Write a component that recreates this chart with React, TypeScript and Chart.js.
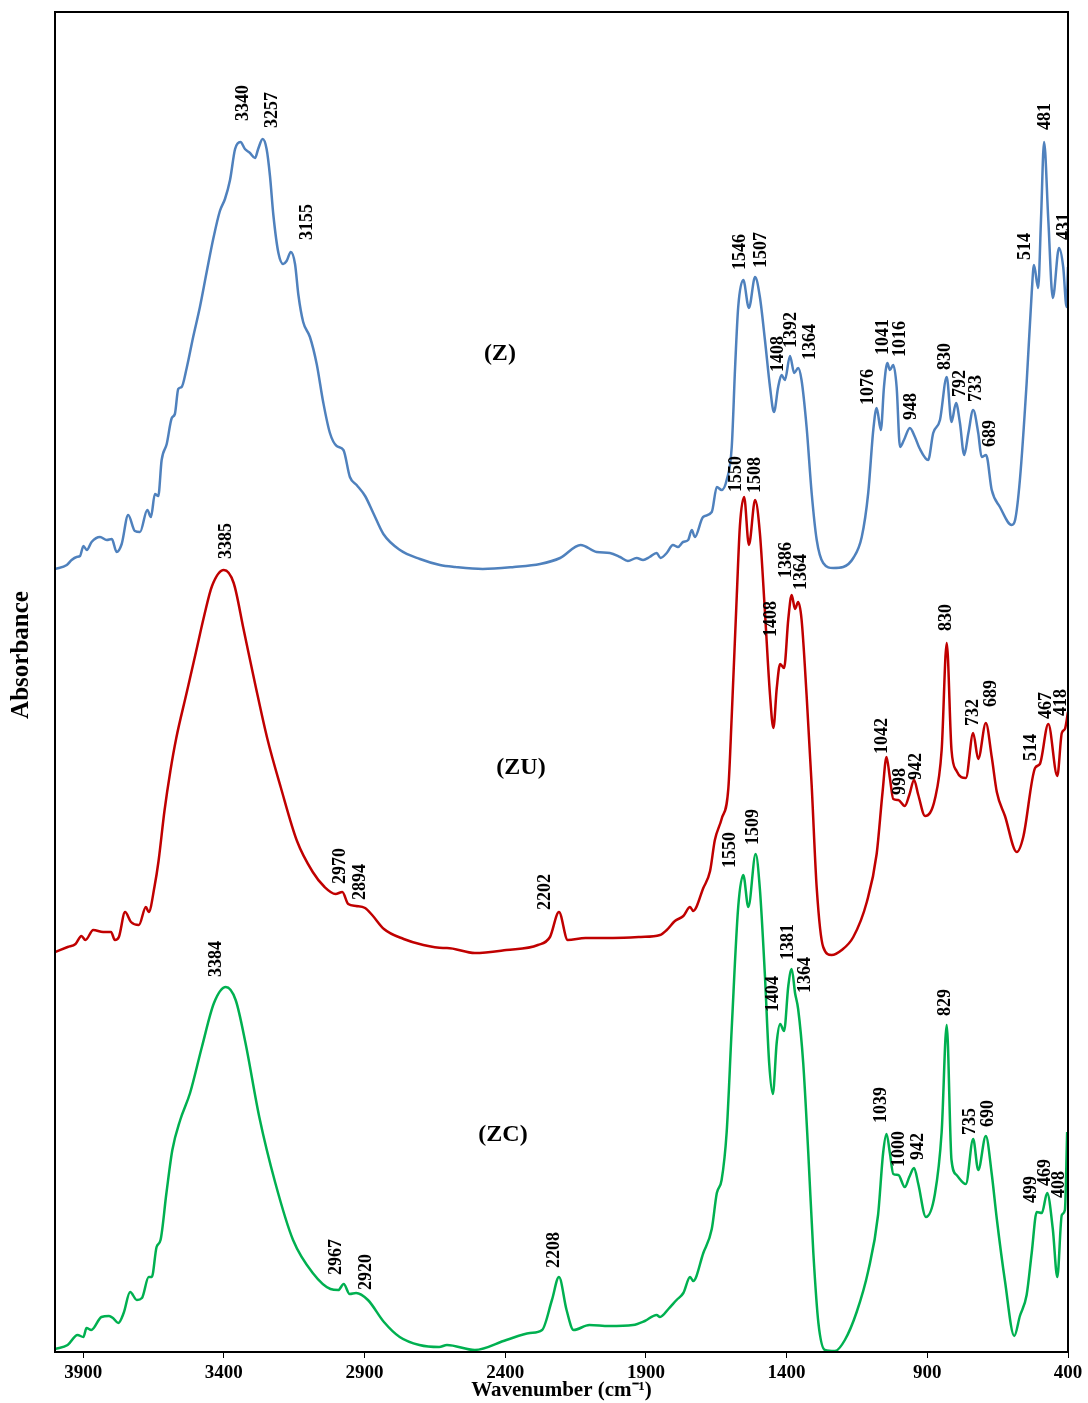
import React, { useEffect, useRef } from "react";
import { Chart, registerables } from "chart.js";

Chart.register(...registerables);

// ---------- axis ----------
const X_TICKS = [3900, 3400, 2900, 2400, 1900, 1400, 900, 400];
const X_MIN = 400;
const X_MAX = 4000;
const Y_MIN = 0;
const Y_MAX = 1.34;

// ---------- series (Z) ----------
const Z_WN = [
  4000, 3958, 3941, 3923, 3911, 3899, 3887, 3870, 3840, 3816,
  3798, 3781, 3763, 3740, 3716, 3698, 3672, 3659, 3645, 3633,
  3621, 3603, 3585, 3574, 3562, 3550, 3532, 3509, 3485, 3461,
  3437, 3414, 3396, 3378, 3360, 3341, 3325, 3307, 3289, 3278,
  3262, 3248, 3236, 3224, 3206, 3189, 3177, 3162, 3147, 3135,
  3118, 3094, 3070, 3047, 3023, 2999, 2975, 2952, 2928, 2898,
  2869, 2833, 2774, 2703, 2632, 2578, 2480, 2369, 2276, 2205,
  2132, 2075, 2028, 1992, 1964, 1933, 1910, 1887, 1862, 1848,
  1826, 1804, 1786, 1768, 1750, 1737, 1726, 1697, 1666, 1648,
  1631, 1613, 1595, 1583, 1572, 1554, 1534, 1512, 1495, 1477,
  1459, 1445, 1430, 1418, 1406, 1388, 1373, 1359, 1347, 1329,
  1311, 1293, 1270, 1234, 1199, 1163, 1133, 1110, 1092, 1080,
  1065, 1054, 1042, 1033, 1021, 1009, 997, 983, 962, 944,
  928, 897, 879, 855, 831, 814, 798, 784, 769, 754,
  737, 719, 707, 691, 671, 642, 600, 588, 571, 547,
  529, 521, 506, 496, 485, 470, 454, 432, 417, 405,
  400,
];
const Z_ABS = [
  0.783, 0.787, 0.792, 0.795, 0.796, 0.806, 0.802, 0.81, 0.815, 0.812,
  0.813, 0.8, 0.808, 0.837, 0.821, 0.82, 0.842, 0.835, 0.858, 0.856,
  0.892, 0.908, 0.934, 0.938, 0.963, 0.965, 0.984, 1.015, 1.045, 1.08,
  1.114, 1.141, 1.153, 1.172, 1.203, 1.21, 1.203, 1.199, 1.194, 1.203,
  1.213, 1.203, 1.176, 1.137, 1.099, 1.088, 1.091, 1.1, 1.088, 1.057,
  1.03, 1.015, 0.988, 0.95, 0.919, 0.906, 0.902, 0.875, 0.867, 0.856,
  0.839, 0.818, 0.802, 0.793, 0.787, 0.785, 0.783, 0.785, 0.788, 0.794,
  0.807, 0.8, 0.799, 0.795, 0.791, 0.794, 0.792, 0.795, 0.799, 0.794,
  0.799, 0.807, 0.805, 0.81, 0.812, 0.822, 0.815, 0.835, 0.84, 0.865,
  0.862, 0.872, 0.905, 0.985, 1.045, 1.072, 1.044, 1.075, 1.055, 1.012,
  0.965, 0.94, 0.965, 0.977, 0.972, 0.996, 0.979, 0.984, 0.972, 0.925,
  0.859, 0.812, 0.789, 0.784, 0.785, 0.794, 0.815, 0.859, 0.922, 0.944,
  0.922, 0.965, 0.989, 0.982, 0.987, 0.965, 0.905, 0.912, 0.924, 0.915,
  0.904, 0.892, 0.919, 0.932, 0.975, 0.93, 0.949, 0.929, 0.897, 0.919,
  0.942, 0.919, 0.895, 0.897, 0.862, 0.845, 0.827, 0.832, 0.872, 0.969,
  1.059, 1.087, 1.064, 1.132, 1.21, 1.132, 1.054, 1.104, 1.085, 1.045,
  1.085,
];

// ---------- series (ZU) ----------
const ZU_WN = [
  4000, 3955, 3927, 3906, 3892, 3864, 3829, 3801, 3787, 3773,
  3751, 3730, 3702, 3677, 3667, 3646, 3632, 3611, 3590, 3569,
  3534, 3499, 3470, 3442, 3400, 3365, 3330, 3288, 3246, 3197,
  3140, 3084, 3042, 3003, 2979, 2958, 2930, 2898, 2873, 2831,
  2761, 2691, 2621, 2607, 2508, 2396, 2284, 2241, 2209, 2178,
  2115, 2017, 1918, 1850, 1826, 1797, 1767, 1743, 1732, 1696,
  1672, 1655, 1631, 1607, 1595, 1577, 1566, 1551, 1534, 1512,
  1495, 1477, 1459, 1447, 1435, 1423, 1409, 1394, 1382, 1370,
  1359, 1347, 1329, 1311, 1293, 1270, 1240, 1204, 1163, 1115,
  1080, 1059, 1045, 1033, 1021, 1003, 980, 964, 947, 932,
  908, 873, 849, 831, 814, 796, 763, 737, 719, 692,
  671, 653, 624, 582, 559, 517, 500, 470, 438, 422,
  411, 400,
];
const ZU_ABS = [
  0.4, 0.405, 0.408, 0.416, 0.412, 0.422, 0.42, 0.42, 0.412, 0.415,
  0.44, 0.43, 0.427, 0.445, 0.44, 0.466, 0.491, 0.541, 0.581, 0.614,
  0.657, 0.7, 0.736, 0.766, 0.782, 0.769, 0.723, 0.667, 0.614, 0.564,
  0.511, 0.48, 0.465, 0.458, 0.46, 0.448, 0.446, 0.444, 0.437, 0.423,
  0.413, 0.407, 0.404, 0.404, 0.399, 0.402, 0.407, 0.415, 0.44, 0.412,
  0.414, 0.414, 0.415, 0.417, 0.422, 0.431, 0.436, 0.445, 0.441, 0.464,
  0.481, 0.512, 0.533, 0.564, 0.636, 0.757, 0.826, 0.855, 0.807, 0.852,
  0.819, 0.74, 0.657, 0.624, 0.664, 0.688, 0.684, 0.733, 0.757, 0.743,
  0.75, 0.733, 0.657, 0.567, 0.464, 0.405, 0.397, 0.402, 0.415, 0.45,
  0.498, 0.56, 0.595, 0.574, 0.553, 0.552, 0.546, 0.557, 0.572, 0.557,
  0.536, 0.553, 0.602, 0.709, 0.602, 0.581, 0.574, 0.619, 0.593, 0.629,
  0.595, 0.56, 0.536, 0.5, 0.515, 0.584, 0.588, 0.628, 0.576, 0.619,
  0.623, 0.64,
];

// ---------- series (ZC) ----------
const ZC_WN = [
  4000, 3955, 3920, 3899, 3888, 3871, 3835, 3808, 3794, 3775,
  3756, 3733, 3709, 3691, 3667, 3656, 3639, 3625, 3604, 3583,
  3555, 3520, 3478, 3435, 3393, 3358, 3323, 3274, 3217, 3154,
  3084, 3021, 2993, 2974, 2953, 2930, 2888, 2831, 2775, 2705,
  2635, 2607, 2508, 2396, 2312, 2269, 2234, 2209, 2182, 2157,
  2101, 2031, 1946, 1904, 1862, 1850, 1820, 1791, 1767, 1743,
  1732, 1696, 1666, 1648, 1631, 1613, 1595, 1572, 1554, 1536,
  1510, 1495, 1477, 1462, 1449, 1435, 1423, 1409, 1394, 1382,
  1370, 1359, 1341, 1323, 1305, 1287, 1264, 1228, 1193, 1151,
  1110, 1075, 1057, 1045, 1033, 1021, 1003, 980, 964, 947,
  932, 905, 873, 849, 831, 814, 796, 763, 737, 719,
  692, 671, 653, 624, 591, 571, 547, 529, 511, 493,
  474, 454, 438, 422, 411, 403,
];
const ZC_ABS = [
  0.003, 0.007, 0.017, 0.015, 0.024, 0.022, 0.035, 0.036, 0.034, 0.029,
  0.039, 0.06, 0.052, 0.054, 0.075, 0.075, 0.105, 0.112, 0.159, 0.202,
  0.232, 0.259, 0.305, 0.349, 0.365, 0.352, 0.309, 0.235, 0.169, 0.112,
  0.079, 0.063, 0.062, 0.068, 0.058, 0.059, 0.052, 0.03, 0.015, 0.007,
  0.005, 0.007, 0.002, 0.012, 0.019, 0.022, 0.052, 0.075, 0.042, 0.022,
  0.027, 0.026, 0.027, 0.031, 0.037, 0.035, 0.043, 0.052, 0.059, 0.075,
  0.071, 0.099, 0.123, 0.159, 0.172, 0.22, 0.324, 0.445, 0.477, 0.445,
  0.498, 0.463, 0.376, 0.289, 0.258, 0.31, 0.328, 0.321, 0.366, 0.383,
  0.359, 0.343, 0.289, 0.199, 0.099, 0.029, 0.002, 0.001, 0.012, 0.04,
  0.081, 0.137, 0.199, 0.218, 0.199, 0.178, 0.177, 0.165, 0.175, 0.184,
  0.168, 0.135, 0.158, 0.22, 0.327, 0.192, 0.177, 0.168, 0.213, 0.182,
  0.216, 0.178, 0.133, 0.071, 0.016, 0.036, 0.057, 0.099, 0.14, 0.139,
  0.159, 0.123, 0.075, 0.137, 0.142, 0.22,
];

// ---------- peak annotations (text, wavenumber anchor, absorbance anchor) ----------
const Z_PEAK_TEXT = ["3340", "3257", "3155", "1546", "1507", "1408", "1392", "1364", "1076", "1041", "1016", "948", "830", "792", "733", "689", "514", "481", "431"];
const Z_PEAK_WN = [3332, 3229, 3104, 1566, 1489, 1431, 1382, 1317, 1110, 1057, 997, 955, 837, 781, 724, 677, 553, 482, 414];
const Z_PEAK_ABS = [1.231, 1.224, 1.112, 1.082, 1.084, 0.98, 1.004, 0.992, 0.947, 0.997, 0.995, 0.932, 0.982, 0.955, 0.95, 0.905, 1.092, 1.222, 1.112];

const ZU_PEAK_TEXT = ["3385", "2970", "2894", "2202", "1550", "1508", "1408", "1386", "1364", "1042", "998", "942", "830", "732", "689", "514", "467", "418"];
const ZU_PEAK_WN = [3392, 2986, 2916, 2259, 1577, 1512, 1453, 1400, 1346, 1059, 995, 940, 831, 737, 671, 529, 476, 422];
const ZU_PEAK_ABS = [0.793, 0.468, 0.452, 0.442, 0.86, 0.859, 0.715, 0.774, 0.762, 0.598, 0.557, 0.572, 0.721, 0.626, 0.645, 0.591, 0.633, 0.636];

const ZC_PEAK_TEXT = ["3384", "2967", "2920", "2208", "1550", "1509", "1404", "1381", "1364", "1039", "1000", "942", "829", "735", "690", "499", "469", "408"];
const ZC_PEAK_WN = [3425, 3000, 2895, 2227, 1601, 1519, 1447, 1394, 1335, 1062, 999, 932, 837, 748, 683, 529, 482, 429];
const ZC_PEAK_ABS = [0.375, 0.077, 0.062, 0.084, 0.484, 0.507, 0.34, 0.392, 0.359, 0.229, 0.185, 0.192, 0.336, 0.217, 0.225, 0.149, 0.166, 0.154];

// ---------- series names ----------
const SERIES_NAMES = ["(Z)", "(ZU)", "(ZC)"];
const SERIES_NAME_WN = [2419, 2344, 2408];
const SERIES_NAME_ABS = [0.998, 0.584, 0.217];
const SERIES_COLORS = ["#4F81BD", "#C00000", "#00B050"];

const zip = (xs: number[], ys: number[]) => xs.map((x, i) => ({ x, y: ys[i] }));

const SERIF = '"Liberation Serif", "Times New Roman", serif';

const annotatePlugin = {
  id: "annotatePlugin",
  afterDatasetsDraw(chart: any) {
    const { ctx, chartArea } = chart;
    const xs = chart.scales.x;
    const ys = chart.scales.y;
    ctx.save();
    // frame
    ctx.strokeStyle = "#000";
    ctx.lineWidth = 2;
    ctx.strokeRect(
      chartArea.left,
      chartArea.top,
      chartArea.right - chartArea.left,
      chartArea.bottom - chartArea.top
    );
    // peak labels
    ctx.fillStyle = "#000";
    ctx.font = `bold 18px ${SERIF}`;
    ctx.textAlign = "left";
    ctx.textBaseline = "middle";
    const groups: [string[], number[], number[]][] = [
      [Z_PEAK_TEXT, Z_PEAK_WN, Z_PEAK_ABS],
      [ZU_PEAK_TEXT, ZU_PEAK_WN, ZU_PEAK_ABS],
      [ZC_PEAK_TEXT, ZC_PEAK_WN, ZC_PEAK_ABS],
    ];
    for (const [texts, wns, abss] of groups) {
      texts.forEach((t, i) => {
        const px = xs.getPixelForValue(wns[i]);
        const py = ys.getPixelForValue(abss[i]);
        ctx.save();
        ctx.translate(px, py);
        ctx.rotate(-Math.PI / 2);
        ctx.fillText(t, 0, 0);
        ctx.restore();
      });
    }
    // series names
    ctx.font = `bold 24px ${SERIF}`;
    ctx.textAlign = "center";
    SERIES_NAMES.forEach((n, i) => {
      ctx.fillText(n, xs.getPixelForValue(SERIES_NAME_WN[i]), ys.getPixelForValue(SERIES_NAME_ABS[i]));
    });
    // y-axis title
    ctx.font = `bold 25px ${SERIF}`;
    ctx.save();
    ctx.translate(22, 655);
    ctx.rotate(-Math.PI / 2);
    ctx.textAlign = "center";
    ctx.fillText("Absorbance", 0, 0);
    ctx.restore();
    ctx.restore();
  },
};

export default function App() {
  const canvasRef = useRef<HTMLCanvasElement | null>(null);

  useEffect(() => {
    if (!canvasRef.current) return;
    const series = [
      { label: "Z", d: zip(Z_WN, Z_ABS) },
      { label: "ZU", d: zip(ZU_WN, ZU_ABS) },
      { label: "ZC", d: zip(ZC_WN, ZC_ABS) },
    ];
    const chart = new Chart(canvasRef.current, {
      type: "line",
      data: {
        datasets: series.map((s, i) => ({
          label: s.label,
          data: s.d,
          borderColor: SERIES_COLORS[i],
          backgroundColor: SERIES_COLORS[i],
          borderWidth: 2.5,
          pointRadius: 0,
          cubicInterpolationMode: "monotone" as const,
          borderJoinStyle: "round" as const,
          fill: false,
        })),
      },
      options: {
        animation: false,
        responsive: false,
        devicePixelRatio: 1,
        layout: { padding: { left: 55, right: 20, top: 12, bottom: 0 } },
        plugins: { legend: { display: false }, tooltip: { enabled: false } },
        scales: {
          x: {
            type: "linear",
            min: X_MIN,
            max: X_MAX,
            reverse: true,
            afterBuildTicks: (s: any) => {
              s.ticks = X_TICKS.map((v) => ({ value: v }));
            },
            afterFit: (s: any) => {
              s.height = 51;
            },
            grid: {
              drawOnChartArea: false,
              drawTicks: true,
              tickLength: 6,
              color: "#000",
              lineWidth: 1,
            },
            border: { display: true, color: "#000", width: 2 },
            ticks: {
              autoSkip: false,
              maxRotation: 0,
              padding: 4,
              color: "#000",
              font: { family: SERIF, size: 19, weight: "bold" },
              callback: (v: any) => String(v),
            },
            title: {
              display: true,
              text: "Wavenumber (cm\u207B\u00B9)",
              color: "#000",
              font: { family: SERIF, size: 21, weight: "bold" },
              padding: { top: 0, bottom: 0 },
            },
          },
          y: {
            type: "linear",
            min: Y_MIN,
            max: Y_MAX,
            display: false,
          },
        },
      },
      plugins: [annotatePlugin],
    } as any);
    return () => chart.destroy();
  }, []);

  return (
    <div style={{ position: "absolute", left: 0, top: 0, width: 1088, height: 1403, background: "#fff" }}>
      <canvas ref={canvasRef} width={1088} height={1403} style={{ display: "block", width: 1088, height: 1403 }} />
    </div>
  );
}
